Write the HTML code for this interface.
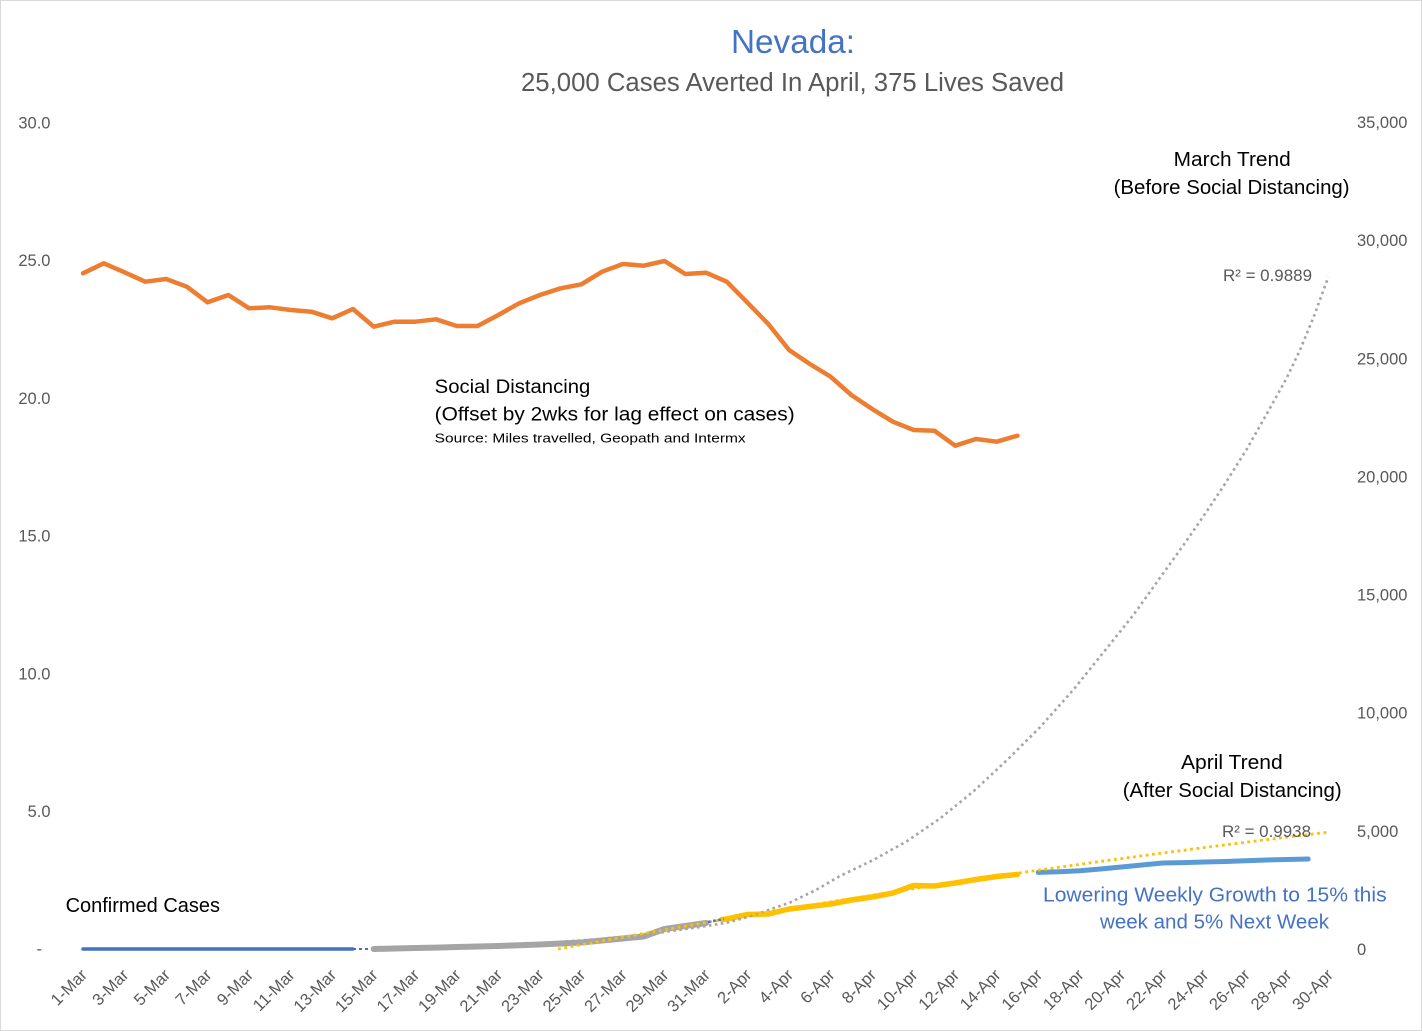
<!DOCTYPE html>
<html>
<head>
<meta charset="utf-8">
<style>
  html, body { margin:0; padding:0; background:#fff; }
  svg { display:block; }
  text { font-family: "Liberation Sans", "DejaVu Sans", sans-serif; }
</style>
</head>
<body>
<svg width="1422" height="1031" viewBox="0 0 1422 1031" xmlns="http://www.w3.org/2000/svg">
  <rect x="0" y="0" width="1422" height="1031" fill="#ffffff"/>
  <rect x="0.5" y="0.5" width="1421" height="1030" fill="none" stroke="#D9D9D9" stroke-width="1"/>

  <!-- Titles -->
  <text x="731" y="53" font-size="33" fill="#4472C4" textLength="124" lengthAdjust="spacingAndGlyphs">Nevada:</text>
  <text x="521" y="91" font-size="25.5" fill="#595959" textLength="543" lengthAdjust="spacingAndGlyphs">25,000 Cases Averted In April, 375 Lives Saved</text>

  <!-- Left axis labels -->
  <g font-size="16.5" fill="#595959" text-anchor="end">
    <text x="50.5" y="128.3">30.0</text>
    <text x="50.5" y="266.1">25.0</text>
    <text x="50.5" y="403.9">20.0</text>
    <text x="50.5" y="541.6">15.0</text>
    <text x="50.5" y="679.4">10.0</text>
    <text x="50.5" y="817.2">5.0</text>
  </g>
  <text x="36.5" y="954.5" font-size="16.5" fill="#595959">-</text>

  <!-- Right axis labels -->
  <g font-size="16.5" fill="#595959">
    <text x="1357" y="128">35,000</text>
    <text x="1357" y="246.1">30,000</text>
    <text x="1357" y="364.3">25,000</text>
    <text x="1357" y="482.4">20,000</text>
    <text x="1357" y="600.6">15,000</text>
    <text x="1357" y="718.7">10,000</text>
    <text x="1357" y="836.9">5,000</text>
    <text x="1357" y="955">0</text>
  </g>

  <!-- X axis labels -->
  <g font-size="16.5" fill="#595959" text-anchor="end">
    <text transform="translate(88,976) rotate(-45)">1-Mar</text>
    <text transform="translate(129.5,976) rotate(-45)">3-Mar</text>
    <text transform="translate(171.1,976) rotate(-45)">5-Mar</text>
    <text transform="translate(212.6,976) rotate(-45)">7-Mar</text>
    <text transform="translate(254.1,976) rotate(-45)">9-Mar</text>
    <text transform="translate(295.7,976) rotate(-45)">11-Mar</text>
    <text transform="translate(337.2,976) rotate(-45)">13-Mar</text>
    <text transform="translate(378.7,976) rotate(-45)">15-Mar</text>
    <text transform="translate(420.3,976) rotate(-45)">17-Mar</text>
    <text transform="translate(461.8,976) rotate(-45)">19-Mar</text>
    <text transform="translate(503.3,976) rotate(-45)">21-Mar</text>
    <text transform="translate(544.9,976) rotate(-45)">23-Mar</text>
    <text transform="translate(586.4,976) rotate(-45)">25-Mar</text>
    <text transform="translate(627.9,976) rotate(-45)">27-Mar</text>
    <text transform="translate(669.5,976) rotate(-45)">29-Mar</text>
    <text transform="translate(711,976) rotate(-45)">31-Mar</text>
    <text transform="translate(752.5,976) rotate(-45)">2-Apr</text>
    <text transform="translate(794.1,976) rotate(-45)">4-Apr</text>
    <text transform="translate(835.6,976) rotate(-45)">6-Apr</text>
    <text transform="translate(877.1,976) rotate(-45)">8-Apr</text>
    <text transform="translate(918.7,976) rotate(-45)">10-Apr</text>
    <text transform="translate(960.2,976) rotate(-45)">12-Apr</text>
    <text transform="translate(1001.7,976) rotate(-45)">14-Apr</text>
    <text transform="translate(1043.3,976) rotate(-45)">16-Apr</text>
    <text transform="translate(1084.8,976) rotate(-45)">18-Apr</text>
    <text transform="translate(1126.3,976) rotate(-45)">20-Apr</text>
    <text transform="translate(1167.9,976) rotate(-45)">22-Apr</text>
    <text transform="translate(1209.4,976) rotate(-45)">24-Apr</text>
    <text transform="translate(1250.9,976) rotate(-45)">26-Apr</text>
    <text transform="translate(1292.5,976) rotate(-45)">28-Apr</text>
    <text transform="translate(1334,976) rotate(-45)">30-Apr</text>
  </g>

  <!-- Series: dark blue confirmed cases (early March) -->
  <polyline fill="none" stroke="#4472C4" stroke-width="3.5" stroke-linecap="round"
    points="83,949 352.97,949"/>
  <line x1="353" y1="949" x2="372" y2="949" stroke="#4472C4" stroke-width="2" stroke-dasharray="3 3"/>

  <!-- Gray series (mid/late March) -->
  <polyline fill="none" stroke="#A5A5A5" stroke-width="6" stroke-linejoin="round" stroke-linecap="round"
    points="373.73,949 394.5,948.5 415.27,948 436.03,947.6 456.8,947 477.57,946.5 498.33,946 519.1,945.3 539.87,944.5 560.63,943.5 581.4,942.5 602.17,940.5 622.93,938.5 643.7,936.5 664.47,929 685.23,926 706,923"/>

  <!-- Yellow series (April actual) -->
  <polyline fill="none" stroke="#FFC000" stroke-width="5.5" stroke-linejoin="round" stroke-linecap="round"
    points="722,919.5 726.77,919 747.53,914.5 768.3,914 789.07,909 809.83,906.5 830.6,904 851.37,900 872.13,897 892.9,893 913.67,885.5 934.43,886 955.2,883 975.97,879.5 996.73,876.5 1017.5,874.5"/>

  <!-- Light blue projection -->
  <polyline fill="none" stroke="#5B9BD5" stroke-width="5" stroke-linejoin="round" stroke-linecap="round"
    points="1038.27,872.4 1059.03,871.8 1079.8,870.8 1100.57,869 1121.33,867 1142.1,865 1162.87,863 1183.63,862.6 1204.4,862 1225.17,861.5 1245.93,860.8 1266.7,860 1287.47,859.5 1308.23,859"/>

  <!-- Orange social distancing -->
  <polyline fill="none" stroke="#ED7D31" stroke-width="4.5" stroke-linejoin="round" stroke-linecap="round"
    points="83,273.3 103.77,263.3 124.53,272.3 145.3,281.7 166.07,279 186.83,286.7 207.6,302.3 228.37,295 249.13,308.3 269.9,307.3 290.67,310 311.43,311.7 332.2,318.3 352.97,309 373.73,326.7 394.5,321.7 415.27,321.7 436.03,319.3 456.8,326 477.57,326 498.33,315 519.1,303.3 539.87,295 560.63,288.3 581.4,284.3 602.17,271.7 622.93,264 643.7,265.7 664.47,261 685.23,274 706,272.7 726.77,281.7 747.53,302.7 768.3,324 789.07,350 809.83,364 830.6,376.7 851.37,395 872.13,409 892.9,421.7 913.67,430 934.43,430.7 955.2,445.7 975.97,439 996.73,441.7 1017.5,435.7"/>

  <!-- March trend (gray dotted) -->
  <polyline fill="none" stroke="#A5A5A5" stroke-width="2.6" stroke-dasharray="2.6 3.4"
    points="374,949 450,947.5 530,944 600,939 650,934 700,927 728,922.5 753,915.5 790,902.5 815,890.5 840,876 873.3,860 906.7,841.3 940,818.5 973.3,791.5 1006.7,760.4 1040,727.2 1073.3,689.8 1106.7,648.3 1133.3,615.1 1160,577.8 1186.7,540.5 1206.7,511.4 1223.3,486.5 1246.7,449.2 1266.7,414 1286.7,378 1300,350 1313.3,318 1328.3,277"/>

  <!-- April trend (yellow dotted) -->
  <path d="M558,949 Q943.5,877.8 1329,832.1" fill="none" stroke="#FFC000" stroke-width="2.8" stroke-dasharray="2.8 3.6"/>

  <!-- small dark blue dotted piece -->
  <line x1="708" y1="922" x2="724" y2="919" stroke="#4472C4" stroke-width="2.6" stroke-dasharray="2.6 2.6"/>

  <!-- Annotations -->
  <text x="1173.7" y="166" font-size="20.5" fill="#000" textLength="117" lengthAdjust="spacingAndGlyphs">March Trend</text>
  <text x="1113.6" y="194" font-size="20.5" fill="#000" textLength="236" lengthAdjust="spacingAndGlyphs">(Before Social Distancing)</text>
  <text x="1223" y="281" font-size="16.5" fill="#595959" textLength="89" lengthAdjust="spacingAndGlyphs">R² = 0.9889</text>

  <text x="434.7" y="393" font-size="19" fill="#000" textLength="155.6" lengthAdjust="spacingAndGlyphs">Social Distancing</text>
  <text x="434.7" y="420.5" font-size="19" fill="#000" textLength="360" lengthAdjust="spacingAndGlyphs">(Offset by 2wks for lag effect on cases)</text>
  <text x="434.7" y="442.5" font-size="13" fill="#000" textLength="311" lengthAdjust="spacingAndGlyphs">Source: Miles travelled, Geopath and Intermx</text>

  <text x="65.6" y="912" font-size="20" fill="#000" textLength="154.4" lengthAdjust="spacingAndGlyphs">Confirmed Cases</text>

  <text x="1181" y="769" font-size="20.5" fill="#000" textLength="101.7" lengthAdjust="spacingAndGlyphs">April Trend</text>
  <text x="1122.7" y="797" font-size="20.5" fill="#000" textLength="219" lengthAdjust="spacingAndGlyphs">(After Social Distancing)</text>
  <text x="1222" y="837" font-size="16.5" fill="#595959" textLength="89" lengthAdjust="spacingAndGlyphs">R² = 0.9938</text>

  <text x="1043" y="901.5" font-size="20" fill="#4472C4" textLength="343.6" lengthAdjust="spacingAndGlyphs">Lowering Weekly Growth to 15% this</text>
  <text x="1100" y="928.5" font-size="20" fill="#4472C4" textLength="229" lengthAdjust="spacingAndGlyphs">week and 5% Next Week</text>
</svg>
</body>
</html>
